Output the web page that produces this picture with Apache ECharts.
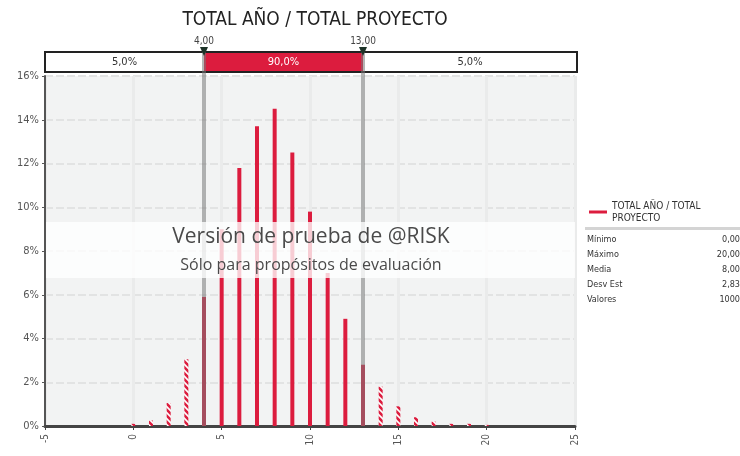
<!DOCTYPE html>
<html>
<head>
<meta charset="utf-8">
<script src="https://cdn.jsdelivr.net/npm/echarts@6/dist/echarts.min.js"></script>
<style>
  html, body { margin: 0; padding: 0; background: #fff; }
  #chart { width: 740px; height: 456px; }
</style>
</head>
<body>
<div id="chart"></div>
<script>
// datos del histograma (valor, % de iteraciones)
const xValues = [0, 1, 2, 3, 4, 5, 6, 7, 8, 9, 10, 11, 12, 13, 14, 15, 16, 17, 18, 19, 20]
const percents = [0.1, 0.25, 1.05, 3.05, 5.9, 9.0, 11.8, 13.7, 14.5, 12.5, 9.8, 7.0, 4.9, 2.8, 1.8, 0.9, 0.4, 0.2, 0.1, 0.1, 0.05]
const xTicks = [-5, 0, 5, 10, 15, 20, 25]
const yTicks = [0, 2, 4, 6, 8, 10, 12, 14, 16]

// percentiles de la barra superior
const leftMarker = 4.0
const rightMarker = 13.0
const bandLabels = ['5,0%', '90,0%', '5,0%']
const markerLabels = ['4,00', '13,00']

// estadísticas
const statNames = ['Mínimo', 'Máximo', 'Media', 'Desv Est', 'Valores']
const statValues = ['0,00', '20,00', '8,00', '2,83', '1000']

const seriesName = 'TOTAL AÑO / TOTAL PROYECTO'
const RED = '#dc1c3e'
const FONT = "'Liberation Sans Narrow', 'DejaVu Sans Condensed', sans-serif"

// patrón rayado para las colas
const makeHatch = () => {
  const c = document.createElement('canvas')
  c.width = 6
  c.height = 6
  const ctx = c.getContext('2d')
  ctx.fillStyle = RED
  ctx.fillRect(0, 0, 6, 6)
  ctx.strokeStyle = '#ffffff'
  ctx.lineWidth = 1.6
  ctx.beginPath()
  ctx.moveTo(0, 0); ctx.lineTo(6, 6)
  ctx.moveTo(-3, 3); ctx.lineTo(3, 9)
  ctx.moveTo(3, -3); ctx.lineTo(9, 3)
  ctx.stroke()
  return c
}
const hatch = { image: makeHatch(), repeat: 'repeat' }

const barData = xValues.map((x, i) => ({
  value: [x, percents[i]],
  itemStyle: { color: (x < leftMarker || x > rightMarker) ? hatch : RED }
}))

const chart = echarts.init(document.getElementById('chart'))

const option = {
  animation: false,
  textStyle: { fontFamily: FONT },
  title: {
    text: 'TOTAL AÑO / TOTAL PROYECTO',
    left: 310,
    textAlign: 'center',
    top: 6,
    textStyle: { fontFamily: FONT, fontSize: 19, fontWeight: 'normal', color: '#222' }
  },
  grid: {
    left: 45, right: 165, top: 76, bottom: 30,
    show: true, backgroundColor: '#f2f3f3', borderWidth: 0
  },
  legend: {
    data: [seriesName],
    orient: 'vertical',
    left: 584,
    top: 195,
    icon: 'rect',
    itemWidth: 18,
    itemHeight: 3,
    itemGap: 4,
    formatter: () => 'TOTAL AÑO / TOTAL\nPROYECTO',
    textStyle: { fontFamily: FONT, fontSize: 10, color: '#333', lineHeight: 12 }
  },
  xAxis: {
    type: 'value',
    min: xTicks[0],
    max: xTicks[xTicks.length - 1],
    interval: 5,
    axisLine: { onZero: false, lineStyle: { color: '#444', width: 3 } },
    axisTick: { show: true, length: 4, lineStyle: { color: '#444' } },
    axisLabel: { rotate: 90, fontSize: 10, color: '#555', margin: 8, fontFamily: FONT },
    splitLine: { show: true, lineStyle: { color: '#eaebeb', width: 3 } }
  },
  yAxis: {
    type: 'value',
    min: yTicks[0],
    max: yTicks[yTicks.length - 1],
    interval: 2,
    axisLine: { show: true, onZero: false, lineStyle: { color: '#555', width: 2 } },
    axisTick: { show: true, length: 3, lineStyle: { color: '#555' } },
    axisLabel: { formatter: v => v + '%', fontSize: 11, color: '#555', margin: 6, fontFamily: FONT },
    splitLine: { show: true, lineStyle: { color: '#e2e3e3', width: 2, type: [8, 3] } }
  },
  series: [{
    name: seriesName,
    type: 'bar',
    barWidth: 4,
    color: RED,
    data: barData,
    markLine: {
      silent: true,
      symbol: 'none',
      label: { show: false },
      lineStyle: { color: 'rgba(120,120,120,0.55)', width: 4, type: 'solid' },
      data: [{ xAxis: leftMarker }, { xAxis: rightMarker }],
      z: 5
    }
  }]
}

chart.setOption(option)

// barra de percentiles, marcas de agua y estadísticas a partir de las escalas
const px = v => chart.convertToPixel({ xAxisIndex: 0 }, v)
const xL = px(xTicks[0])
const xR = px(xTicks[xTicks.length - 1]) + 2
const xA = px(leftMarker)
const xB = px(rightMarker)
const bandTop = 52
const bandH = 20

const graphics = [
  { type: 'rect', shape: { x: xL, y: bandTop, width: xR - xL, height: bandH },
    style: { fill: '#fff', stroke: '#222', lineWidth: 2 }, z: 10 },
  { type: 'rect', shape: { x: xA, y: bandTop + 1, width: xB - xA, height: bandH - 2 },
    style: { fill: RED }, z: 11 },
  { type: 'text', x: (xL + xA) / 2, y: bandTop + bandH / 2,
    style: { text: bandLabels[0], fill: '#333', font: `11px ${FONT}`, align: 'center', verticalAlign: 'middle' }, z: 12 },
  { type: 'text', x: (xA + xB) / 2, y: bandTop + bandH / 2,
    style: { text: bandLabels[1], fill: '#fff', font: `11px ${FONT}`, align: 'center', verticalAlign: 'middle' }, z: 12 },
  { type: 'text', x: (xB + xR) / 2, y: bandTop + bandH / 2,
    style: { text: bandLabels[2], fill: '#333', font: `11px ${FONT}`, align: 'center', verticalAlign: 'middle' }, z: 12 },
  // líneas grises dentro de la barra
  { type: 'rect', shape: { x: xA - 2, y: bandTop, width: 4, height: 76 - bandTop },
    style: { fill: 'rgba(120,120,120,0.55)' }, z: 13 },
  { type: 'rect', shape: { x: xB - 2, y: bandTop, width: 4, height: 76 - bandTop },
    style: { fill: 'rgba(120,120,120,0.55)' }, z: 13 },
  // triángulos
  { type: 'polygon', shape: { points: [[xA - 4, bandTop - 5], [xA + 4, bandTop - 5], [xA, bandTop + 4]] },
    style: { fill: '#1d3328' }, z: 14 },
  { type: 'polygon', shape: { points: [[xB - 4, bandTop - 5], [xB + 4, bandTop - 5], [xB, bandTop + 4]] },
    style: { fill: '#1d3328' }, z: 14 },
  { type: 'text', x: xA, y: 41,
    style: { text: markerLabels[0], fill: '#444', font: `10px ${FONT}`, align: 'center', verticalAlign: 'middle' }, z: 14 },
  { type: 'text', x: xB, y: 41,
    style: { text: markerLabels[1], fill: '#444', font: `10px ${FONT}`, align: 'center', verticalAlign: 'middle' }, z: 14 },
  // marca de agua
  { type: 'rect', shape: { x: xL + 1, y: 222, width: xR - xL - 3, height: 56 },
    style: { fill: 'rgba(255,255,255,0.78)' }, z: 20 },
  { type: 'text', x: 311, y: 237,
    style: { text: 'Versión de prueba de @RISK', fill: '#4a4a4a', font: "21px 'Open Sans', sans-serif", align: 'center', verticalAlign: 'middle' }, z: 21 },
  { type: 'text', x: 311, y: 265,
    style: { text: 'Sólo para propósitos de evaluación', fill: '#4a4a4a', font: "16px 'Open Sans', sans-serif", align: 'center', verticalAlign: 'middle' }, z: 21 },
  // separador de estadísticas
  { type: 'rect', shape: { x: 585, y: 227, width: 155, height: 3 },
    style: { fill: '#d4d4d4' }, z: 10 }
]

statNames.forEach((name, i) => {
  const y = 240 + i * 15
  graphics.push({ type: 'text', x: 587, y,
    style: { text: name, fill: '#333', font: `9px ${FONT}`, verticalAlign: 'middle' }, z: 10 })
  graphics.push({ type: 'text', x: 740, y,
    style: { text: statValues[i], fill: '#333', font: `9px ${FONT}`, align: 'right', verticalAlign: 'middle' }, z: 10 })
})

chart.setOption({ graphic: graphics })

window.addEventListener('resize', () => chart.resize())
</script>
</body>
</html>
